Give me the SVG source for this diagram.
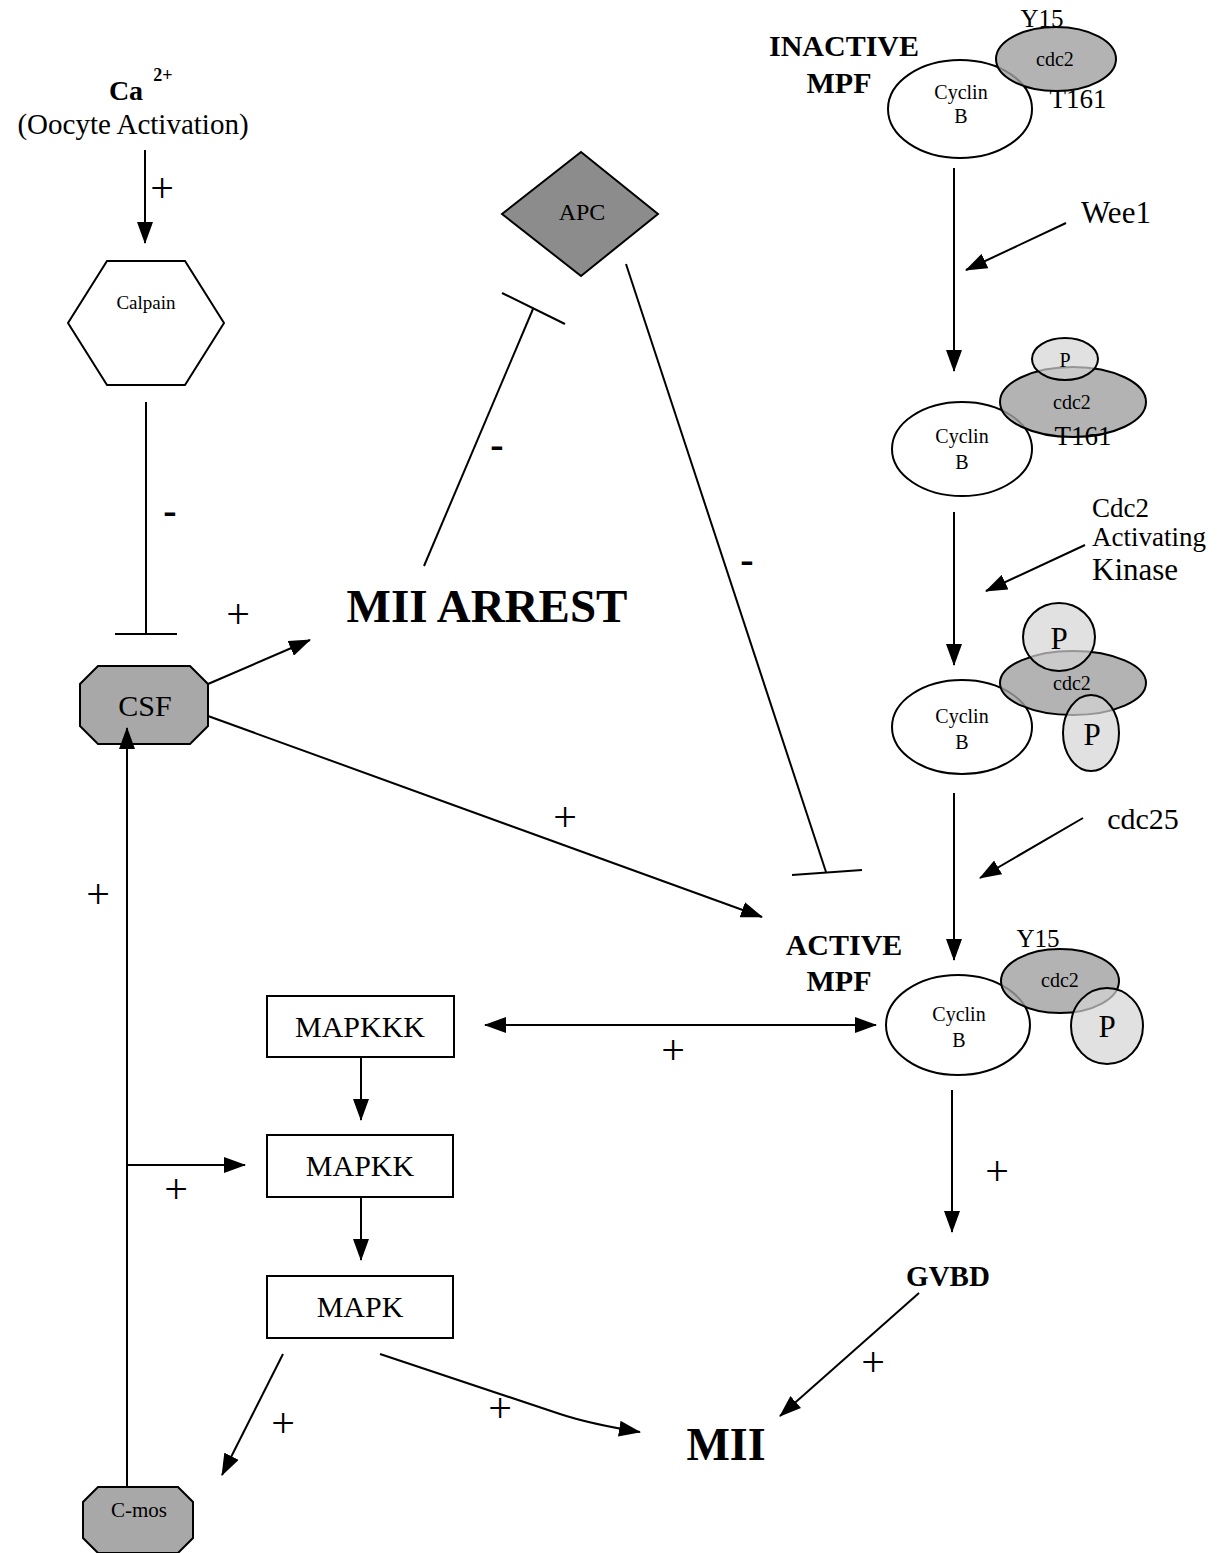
<svg xmlns="http://www.w3.org/2000/svg" width="1222" height="1553" viewBox="0 0 1222 1553">
<style>
text{font-family:"Liberation Serif","Times New Roman",serif;fill:#000;text-anchor:middle}
.b{font-weight:bold}
.l{text-anchor:start}
.ln{stroke:#000;stroke-width:2;fill:none}
.cyc{fill:#fff;stroke:#000;stroke-width:2}
.cdc{fill:#a0a0a0;fill-opacity:0.8;stroke:#000;stroke-width:2}
.p{fill:#d4d4d4;fill-opacity:0.7;stroke:#000;stroke-width:2}
.oct{fill:#a8a8a8;stroke:#000;stroke-width:2}
.cy{font-size:20px}
.sign{font-size:42px}
.minus{font-size:40px;font-weight:bold}
.lbl{font-size:30px}
</style>
<defs>
<marker id="arr" viewBox="0 0 22 16" refX="21" refY="8" markerWidth="22" markerHeight="16" markerUnits="userSpaceOnUse" orient="auto-start-reverse">
<path d="M0,0 L22,8 L0,16 Z" fill="#000"/>
</marker>
</defs>
<rect width="1222" height="1553" fill="#fff"/>

<g id="ca">
<text x="126" y="100" class="b" style="font-size:28px">Ca</text>
<text x="163" y="81" class="b" style="font-size:18px">2+</text>
<text x="133" y="134" style="font-size:29px">(Oocyte Activation)</text>
</g>

<g id="calpain">
<polygon points="107,261 185,261 224,323 185,385 107,385 68,323" fill="#fff" stroke="#000" stroke-width="2"/>
<text x="146" y="309" style="font-size:19px">Calpain</text>
</g>

<g id="csf">
<polygon points="98,666 190,666 208,684 208,726 190,744 98,744 80,726 80,684" class="oct"/>
<text x="145" y="716" style="font-size:30px">CSF</text>
</g>

<g id="cmos">
<polygon points="98,1487 178,1487 193,1502 193,1538 178,1553 98,1553 83,1538 83,1502" class="oct"/>
<text x="139" y="1517" style="font-size:21px">C-mos</text>
</g>

<g id="apc">
<polygon points="581,152 658,214 581,276 502,214" fill="#8c8c8c" stroke="#000" stroke-width="2"/>
<text x="582" y="220" style="font-size:24px">APC</text>
</g>

<g id="miiarrest"><text x="487" y="622" class="b" style="font-size:47px">MII ARREST</text></g>
<g id="mii"><text x="726" y="1460" class="b" style="font-size:46px">MII</text></g>
<g id="gvbd"><text x="948" y="1286" class="b" style="font-size:29px">GVBD</text></g>

<g id="mapkkk"><rect x="267" y="996" width="187" height="61" fill="#fff" stroke="#000" stroke-width="2"/><text x="360" y="1037" class="lbl">MAPKKK</text></g>
<g id="mapkk"><rect x="267" y="1135" width="186" height="62" fill="#fff" stroke="#000" stroke-width="2"/><text x="360" y="1176" class="lbl">MAPKK</text></g>
<g id="mapk"><rect x="267" y="1276" width="186" height="62" fill="#fff" stroke="#000" stroke-width="2"/><text x="360" y="1317" class="lbl">MAPK</text></g>

<g id="inactive-mpf">
<text x="844" y="56" class="b" style="font-size:30px">INACTIVE</text>
<text x="839" y="93" class="b" style="font-size:30px">MPF</text>
<ellipse cx="960" cy="109" rx="72" ry="49" class="cyc"/>
<ellipse cx="1056" cy="59" rx="60" ry="32" class="cdc"/>
<text x="961" y="99" class="cy">Cyclin</text>
<text x="961" y="123" class="cy">B</text>
<text x="1055" y="66" class="cy">cdc2</text>
<text x="1042" y="27" style="font-size:25px">Y15</text>
<text x="1078" y="108" style="font-size:27px">T161</text>
</g>

<g id="mpf-y15p">
<ellipse cx="962" cy="449" rx="70" ry="47" class="cyc"/>
<ellipse cx="1073" cy="402" rx="73" ry="35" class="cdc"/>
<ellipse cx="1065" cy="359" rx="33" ry="21" class="p"/>
<text x="962" y="443" class="cy">Cyclin</text>
<text x="962" y="469" class="cy">B</text>
<text x="1072" y="409" class="cy">cdc2</text>
<text x="1065" y="367" class="cy">P</text>
<text x="1083" y="445" style="font-size:27px">T161</text>
</g>

<g id="mpf-2p">
<ellipse cx="962" cy="727" rx="70" ry="47" class="cyc"/>
<ellipse cx="1073" cy="683" rx="73" ry="32" class="cdc"/>
<ellipse cx="1059" cy="637" rx="36" ry="34" class="p"/>
<ellipse cx="1091" cy="733" rx="28" ry="38" class="p"/>
<text x="962" y="723" class="cy">Cyclin</text>
<text x="962" y="749" class="cy">B</text>
<text x="1072" y="690" class="cy">cdc2</text>
<text x="1059" y="649" style="font-size:31px">P</text>
<text x="1092" y="745" style="font-size:31px">P</text>
</g>

<g id="active-mpf">
<text x="844" y="955" class="b" style="font-size:30px">ACTIVE</text>
<text x="839" y="991" class="b" style="font-size:30px">MPF</text>
<ellipse cx="958" cy="1025" rx="72" ry="50" class="cyc"/>
<ellipse cx="1060" cy="981" rx="59" ry="32" class="cdc"/>
<ellipse cx="1107" cy="1026" rx="36" ry="38" class="p"/>
<text x="959" y="1021" class="cy">Cyclin</text>
<text x="959" y="1047" class="cy">B</text>
<text x="1060" y="987" class="cy">cdc2</text>
<text x="1107" y="1037" style="font-size:31px">P</text>
<text x="1038" y="947" style="font-size:25px">Y15</text>
</g>

<g id="wee1"><text x="1116" y="223" style="font-size:31px">Wee1</text></g>
<g id="cak">
<text x="1092" y="517" class="l" style="font-size:27px">Cdc2</text>
<text x="1092" y="546" class="l" style="font-size:27px">Activating</text>
<text x="1092" y="580" class="l" style="font-size:31px">Kinase</text>
</g>
<g id="cdc25"><text x="1143" y="829" style="font-size:30px">cdc25</text></g>

<g id="connectors">
<line x1="145" y1="150" x2="145" y2="243" class="ln" marker-end="url(#arr)"/>
<line x1="146" y1="402" x2="146" y2="634" class="ln"/>
<line x1="115" y1="634" x2="177" y2="634" class="ln"/>
<line x1="208" y1="684" x2="310" y2="640" class="ln" marker-end="url(#arr)"/>
<line x1="424" y1="566" x2="533" y2="309" class="ln"/>
<line x1="502" y1="293" x2="565" y2="324" class="ln"/>
<line x1="626" y1="264" x2="826" y2="872" class="ln"/>
<line x1="792" y1="875" x2="862" y2="870" class="ln"/>
<line x1="208" y1="716" x2="762" y2="917" class="ln" marker-end="url(#arr)"/>
<line x1="127" y1="1487" x2="127" y2="728" class="ln" marker-end="url(#arr)"/>
<line x1="127" y1="1165" x2="245" y2="1165" class="ln" marker-end="url(#arr)"/>
<line x1="361" y1="1058" x2="361" y2="1120" class="ln" marker-end="url(#arr)"/>
<line x1="361" y1="1198" x2="361" y2="1260" class="ln" marker-end="url(#arr)"/>
<line x1="485" y1="1025" x2="876" y2="1025" class="ln" marker-start="url(#arr)" marker-end="url(#arr)"/>
<line x1="283" y1="1354" x2="222" y2="1475" class="ln" marker-end="url(#arr)"/>
<path d="M380,1354 L560,1414 Q590,1424 640,1432" class="ln" marker-end="url(#arr)"/>
<line x1="919" y1="1293" x2="780" y2="1416" class="ln" marker-end="url(#arr)"/>
<line x1="952" y1="1090" x2="952" y2="1232" class="ln" marker-end="url(#arr)"/>
<line x1="954" y1="168" x2="954" y2="371" class="ln" marker-end="url(#arr)"/>
<line x1="1066" y1="223" x2="966" y2="270" class="ln" marker-end="url(#arr)"/>
<line x1="954" y1="512" x2="954" y2="665" class="ln" marker-end="url(#arr)"/>
<line x1="1085" y1="545" x2="986" y2="591" class="ln" marker-end="url(#arr)"/>
<line x1="954" y1="793" x2="954" y2="960" class="ln" marker-end="url(#arr)"/>
<line x1="1083" y1="818" x2="980" y2="878" class="ln" marker-end="url(#arr)"/>
</g>

<g id="signs">
<text x="162" y="202" class="sign">+</text>
<text x="170" y="524" class="minus">-</text>
<text x="238" y="628" class="sign">+</text>
<text x="497" y="458" class="minus">-</text>
<text x="747" y="573" class="minus">-</text>
<text x="565" y="831" class="sign">+</text>
<text x="98" y="908" class="sign">+</text>
<text x="176" y="1203" class="sign">+</text>
<text x="673" y="1064" class="sign">+</text>
<text x="283" y="1437" class="sign">+</text>
<text x="500" y="1422" class="sign">+</text>
<text x="873" y="1376" class="sign">+</text>
<text x="997" y="1185" class="sign">+</text>
</g>
</svg>
